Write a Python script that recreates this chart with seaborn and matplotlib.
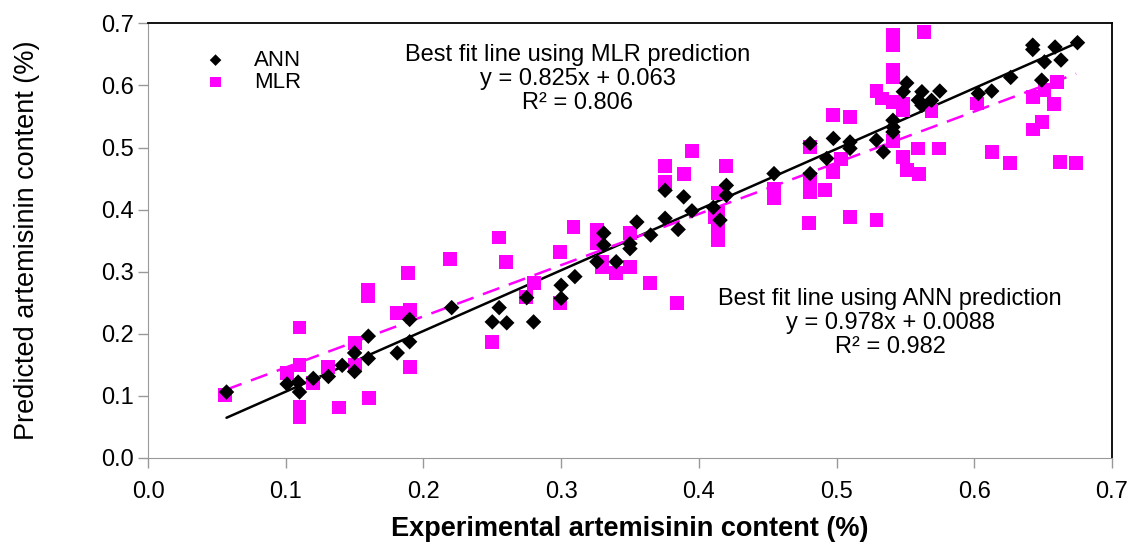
import numpy as np
import pandas as pd
import matplotlib
matplotlib.use('Agg')
import matplotlib.pyplot as plt
import seaborn as sns

# ANN predictions vs experimental
ann_exp = [0.057, 0.101, 0.109, 0.110, 0.120, 0.131, 0.141, 0.150, 0.150, 0.160,
           0.160, 0.181, 0.190, 0.190, 0.2205, 0.255, 0.250, 0.2605, 0.280, 0.275,
           0.300, 0.300, 0.310, 0.331, 0.331, 0.326, 0.340, 0.350, 0.350, 0.355,
           0.365, 0.3755, 0.385, 0.3755, 0.389, 0.395, 0.4105, 0.420, 0.420, 0.4154,
           0.4546, 0.4808, 0.4808, 0.4977, 0.4929, 0.5098, 0.5098, 0.529, 0.534, 0.541,
           0.541, 0.541, 0.551, 0.5485, 0.562, 0.5594, 0.562, 0.569, 0.575, 0.603,
           0.6127, 0.6265, 0.649, 0.6425, 0.6425, 0.651, 0.6587, 0.663, 0.675]
ann_pred = [0.106, 0.119, 0.122, 0.106, 0.128, 0.131, 0.149, 0.139, 0.169, 0.160,
            0.196, 0.169, 0.187, 0.223, 0.242, 0.242, 0.219, 0.2175, 0.219, 0.258,
            0.278, 0.257, 0.292, 0.362, 0.343, 0.316, 0.316, 0.345, 0.337, 0.380,
            0.359, 0.386, 0.368, 0.431, 0.4205, 0.398, 0.4035, 0.439, 0.423, 0.383,
            0.458, 0.458, 0.5066, 0.5147, 0.4824, 0.509, 0.4986, 0.512, 0.493, 0.544,
            0.533, 0.525, 0.604, 0.590, 0.590, 0.5764, 0.568, 0.576, 0.591, 0.587,
            0.591, 0.613, 0.6086, 0.665, 0.658, 0.638, 0.662, 0.641, 0.669]

# MLR predictions vs experimental
mlr_exp = [0.056, 0.110, 0.110, 0.1007, 0.110, 0.110, 0.120, 0.131, 0.139, 0.150,
           0.150, 0.1607, 0.160, 0.160, 0.181, 0.190, 0.190, 0.189, 0.219, 0.255,
           0.260, 0.2496, 0.2745, 0.280, 0.299, 0.299, 0.309, 0.326, 0.326, 0.3295,
           0.3295, 0.340, 0.350, 0.350, 0.3646, 0.384, 0.3755, 0.3755, 0.395, 0.389,
           0.4198, 0.414, 0.414, 0.412, 0.414, 0.414, 0.4546, 0.4546, 0.4808, 0.4808,
           0.4808, 0.480, 0.4917, 0.4977, 0.503, 0.5098, 0.529, 0.4977, 0.5098, 0.541,
           0.541, 0.541, 0.5636, 0.541, 0.541, 0.529, 0.533, 0.541, 0.5485, 0.5485,
           0.569, 0.5485, 0.5594, 0.551, 0.560, 0.5747, 0.602, 0.6127, 0.626, 0.6425,
           0.6425, 0.649, 0.651, 0.660, 0.658, 0.662, 0.674]
mlr_pred = [0.101, 0.210, 0.149, 0.137, 0.082, 0.066, 0.120, 0.147, 0.081, 0.185,
            0.149, 0.097, 0.270, 0.260, 0.234, 0.238, 0.146, 0.298, 0.320, 0.355,
            0.316, 0.187, 0.259, 0.281, 0.332, 0.249, 0.372, 0.367, 0.3455, 0.316,
            0.308, 0.298, 0.362, 0.308, 0.281, 0.249, 0.470, 0.445, 0.495, 0.458,
            0.470, 0.427, 0.394, 0.388, 0.367, 0.351, 0.434, 0.418, 0.501, 0.450,
            0.4286, 0.378, 0.431, 0.461, 0.482, 0.388, 0.383, 0.552, 0.549, 0.511,
            0.681, 0.665, 0.686, 0.625, 0.614, 0.591, 0.579, 0.574, 0.571, 0.560,
            0.559, 0.485, 0.4985, 0.4636, 0.457, 0.4985, 0.571, 0.493, 0.475, 0.581,
            0.529, 0.541, 0.5925, 0.606, 0.570, 0.477, 0.475]

# best fit lines (slope, intercept) as printed on the chart
ann_fit = (0.978, 0.0088)
mlr_fit = (0.825, 0.063)

ann = pd.DataFrame({'exp': ann_exp, 'pred': ann_pred})
mlr = pd.DataFrame({'exp': mlr_exp, 'pred': mlr_pred})

sns.set_style('white')
plt.rcParams['font.family'] = ['Liberation Sans', 'DejaVu Sans']
plt.rcParams['text.color'] = 'black'
plt.rcParams['axes.labelcolor'] = 'black'
plt.rcParams['xtick.color'] = 'black'
plt.rcParams['ytick.color'] = 'black'

fig = plt.figure(figsize=(11.3, 5.45), dpi=100)
ax = fig.add_axes([0.131, 0.160, 0.853, 0.797])

# fit lines
xa = np.array([ann['exp'].min(), ann['exp'].max()])
ax.plot(xa, ann_fit[0] * xa + ann_fit[1], color='black', lw=1.8, zorder=1)
xm = np.array([mlr['exp'].min(), mlr['exp'].max()])
ax.plot(xm, mlr_fit[0] * xm + mlr_fit[1], color='#ff00ff', lw=1.8,
        dashes=(7, 4), zorder=1)

sns.scatterplot(x='exp', y='pred', data=mlr, marker='s', color='#ff00ff',
                s=100, edgecolor='none', label='MLR', ax=ax, zorder=2)
sns.scatterplot(x='exp', y='pred', data=ann, marker='D', color='black',
                s=62, edgecolor='none', label='ANN', ax=ax, zorder=3)

ax.set_xlim(0, 0.7)
ax.set_ylim(0, 0.7)
ax.set_xticks(np.arange(0, 0.71, 0.1))
ax.set_yticks(np.arange(0, 0.71, 0.1))
ax.xaxis.set_major_formatter(matplotlib.ticker.FormatStrFormatter('%.1f'))
ax.yaxis.set_major_formatter(matplotlib.ticker.FormatStrFormatter('%.1f'))
ax.tick_params(axis='both', direction='out', length=7, width=1, color='#999999',
               labelsize=17, bottom=True, left=True)
ax.tick_params(axis='y', pad=3)
ax.tick_params(axis='x', pad=10)

for side in ['left', 'bottom']:
    ax.spines[side].set_color('#999999')
for side in ['top', 'right']:
    ax.spines[side].set_color('black')
    ax.spines[side].set_linewidth(1.3)

ax.set_xlabel('Experimental artemisinin content (%)', fontsize=19.5,
              fontweight='bold')
ax.xaxis.set_label_coords(0.5, -0.135)
ax.set_ylabel('Predicted artemisinin content (%)', fontsize=19.5)
ax.yaxis.set_label_coords(-0.112, 0.5)

handles, labels = ax.get_legend_handles_labels()
ax.legend(handles[::-1], labels[::-1], loc='upper left', bbox_to_anchor=(0.032, 0.985),
          frameon=False, fontsize=16, handletextpad=1.0, labelspacing=0.05,
          markerscale=0.75, handlelength=1.5)

ax.text(0.312, 0.667, 'Best fit line using MLR prediction\n'
        'y = 0.825x + 0.063\nR² = 0.806', ha='center', va='top',
        fontsize=17, linespacing=1.12)
ax.text(0.539, 0.274, 'Best fit line using ANN prediction\n'
        'y = 0.978x + 0.0088\nR² = 0.982', ha='center', va='top',
        fontsize=17, linespacing=1.12)

fig.savefig('out.png', dpi=100)
